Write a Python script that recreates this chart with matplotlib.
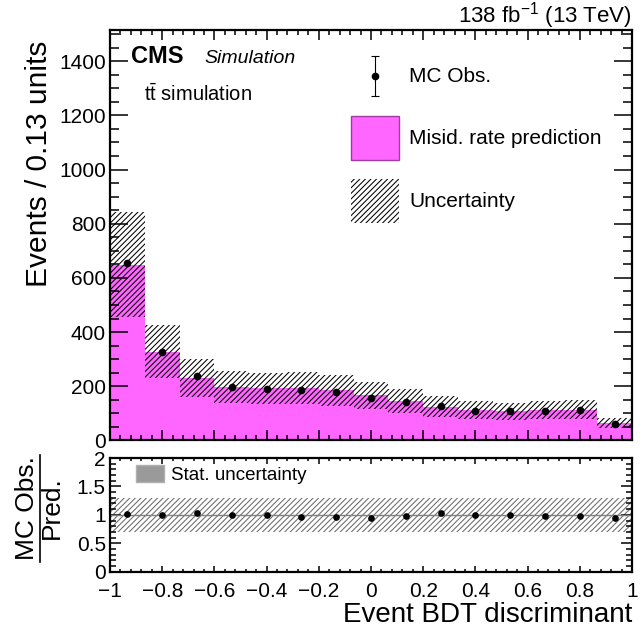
import numpy as np
import matplotlib
matplotlib.use("Agg")
import matplotlib.pyplot as plt
from matplotlib.ticker import MultipleLocator, FuncFormatter
from matplotlib.patches import Patch
from matplotlib.lines import Line2D
from matplotlib.legend_handler import HandlerErrorbar
from matplotlib.container import ErrorbarContainer

plt.rcParams['font.family'] = ['Liberation Sans', 'DejaVu Sans']
plt.rcParams['mathtext.fontset'] = 'custom'
plt.rcParams['mathtext.rm'] = 'Liberation Sans'
plt.rcParams['mathtext.it'] = 'Liberation Sans:italic'
plt.rcParams['mathtext.bf'] = 'Liberation Sans:bold'
plt.rcParams['hatch.linewidth'] = 0.75
plt.rcParams['axes.linewidth'] = 1.6

# data
bin_edges = np.linspace(-1, 1, 16)
pred = [648, 328, 232, 196, 192, 195, 185, 166, 146, 125, 111, 107, 111, 114, 64]
obs = [654, 327, 239, 197, 190, 187, 178, 156, 143, 129, 110, 107, 109, 112, 60]
unc = [194, 98, 70, 59, 58, 59, 56, 50, 44, 38, 33, 32, 33, 34, 19]

pred = np.array(pred, float)
obs = np.array(obs, float)
unc = np.array(unc, float)
centers = 0.5 * (bin_edges[1:] + bin_edges[:-1])
widths = np.diff(bin_edges)
ratio = obs / pred
rel_unc = unc / pred

magenta = '#ff66ff'
hatch = '//////'


def fmt(v, p):
    return f'{round(v, 6) + 0:g}'.replace('-', '\u2212')


class CenteredErrorbar(HandlerErrorbar):
    # keep the marker in the middle of a tall legend handle box
    def create_artists(self, legend, orig_handle, xdescent, ydescent,
                       width, height, fontsize, trans):
        return super().create_artists(legend, orig_handle, xdescent, 2 * ydescent,
                                      width, height, fontsize, trans)


fig = plt.figure(figsize=(6.43, 6.28), dpi=100)
ax = fig.add_axes([0.1711, 0.2986, 0.8118, 0.6537])
rax = fig.add_axes([0.1711, 0.0896, 0.8118, 0.1811])

# top panel
ax.stairs(pred, bin_edges, fill=True, color=magenta, linewidth=0)
ax.bar(bin_edges[:-1], 2 * unc, bottom=pred - unc, width=widths, align='edge',
       facecolor='none', edgecolor='black', hatch=hatch, linewidth=0)
ax.plot(centers, obs, 'o', color='black', ms=4.5)

ax.set_xlim(-1, 1)
ax.set_ylim(0, 1515)
ax.xaxis.set_major_locator(MultipleLocator(0.2))
ax.xaxis.set_minor_locator(MultipleLocator(0.04))
ax.yaxis.set_major_locator(MultipleLocator(200))
ax.yaxis.set_minor_locator(MultipleLocator(50))
ax.tick_params(which='both', direction='in', top=True, right=True,
               labelbottom=False, labelsize=15, width=1.1, pad=3)
ax.tick_params(axis='x', which='major', length=7)
ax.tick_params(axis='x', which='minor', length=3.5)
ax.tick_params(axis='y', which='major', length=13)
ax.tick_params(axis='y', which='minor', length=6.5)
ax.set_ylabel('Events / 0.13 units', fontsize=21.5, loc='top')
ax.yaxis.set_label_coords(-0.11, 0.975)

ax.text(1.0, 1.017, '138 fb$^{-1}$ (13 TeV)', transform=ax.transAxes,
        ha='right', va='baseline', fontsize=16)
ax.text(0.040, 0.92, 'CMS', transform=ax.transAxes, fontsize=17,
        fontweight='bold', va='baseline')
ax.text(0.18, 0.92, 'Simulation', transform=ax.transAxes, fontsize=14,
        style='italic', va='baseline')
ax.text(0.065, 0.827, r'$\mathrm{t}\bar{\mathrm{t}}$ simulation',
        transform=ax.transAxes, fontsize=14.5, va='baseline')

h_obs = ax.errorbar([np.nan], [np.nan], yerr=[1], fmt='o', color='black',
                    ms=4.5, capsize=3, elinewidth=0.8, capthick=0.8)
h_pred = Patch(facecolor=magenta, edgecolor='#a03ca0', linewidth=1)
h_unc = Patch(facecolor='none', edgecolor='black', hatch=hatch, linewidth=0)
ax.legend([h_obs, h_pred, h_unc], ['MC Obs.', 'Misid. rate prediction', 'Uncertainty'],
          loc='upper left', bbox_to_anchor=(0.4617, 0.9415), frameon=False,
          fontsize=15, handlelength=2.3, handleheight=2.85, labelspacing=0.9,
          handletextpad=0.5, borderpad=0, borderaxespad=0,
          handler_map={ErrorbarContainer: CenteredErrorbar(yerr_size=0.95)})

# ratio panel
rax.stairs(1 + rel_unc, bin_edges, baseline=1 - rel_unc, fill=True,
           facecolor='none', edgecolor='#6a6a6a', hatch=hatch, linewidth=0)
rax.axhline(1, color='#808080', linewidth=1)
rax.plot(centers, ratio, 'o', color='black', ms=3.8)

rax.set_xlim(-1, 1)
rax.set_ylim(0, 2.0)
rax.xaxis.set_major_locator(MultipleLocator(0.2))
rax.xaxis.set_minor_locator(MultipleLocator(0.04))
rax.yaxis.set_major_locator(MultipleLocator(0.5))
rax.yaxis.set_minor_locator(MultipleLocator(0.1))
rax.xaxis.set_major_formatter(FuncFormatter(fmt))
rax.yaxis.set_major_formatter(FuncFormatter(fmt))
rax.tick_params(which='both', direction='in', top=True, right=True,
                labelsize=15, width=1.1, pad=3)
rax.tick_params(axis='x', which='major', length=4.5, pad=7.5)
rax.tick_params(axis='x', which='minor', length=2.2)
rax.tick_params(axis='y', which='major', length=8)
rax.tick_params(axis='y', which='minor', length=4)
rax.set_xlabel('Event BDT discriminant', fontsize=20, loc='right')
rax.xaxis.set_label_coords(1.0, -0.27)

rax.legend([Patch(facecolor='#9a9a9a', edgecolor='#b0b0b0', linewidth=1)],
           ['Stat. uncertainty'], loc='upper left', bbox_to_anchor=(0.0498, 0.938),
           frameon=False, fontsize=13.5, handlelength=1.5, handleheight=1.02,
           handletextpad=0.35, borderpad=0, borderaxespad=0)

# ratio y label drawn as a fraction
fig.text(27 / 643, 1 - 508 / 628, 'MC Obs.', rotation=90, ha='center',
         va='center', fontsize=19)
fig.text(52 / 643, 1 - 508 / 628, 'Pred.', rotation=90, ha='center',
         va='center', fontsize=19)
fig.add_artist(Line2D([39.5 / 643, 39.5 / 643], [1 - 562 / 628, 1 - 455 / 628],
                      color='black', linewidth=1.2))

fig.savefig('out.png', dpi=100)
